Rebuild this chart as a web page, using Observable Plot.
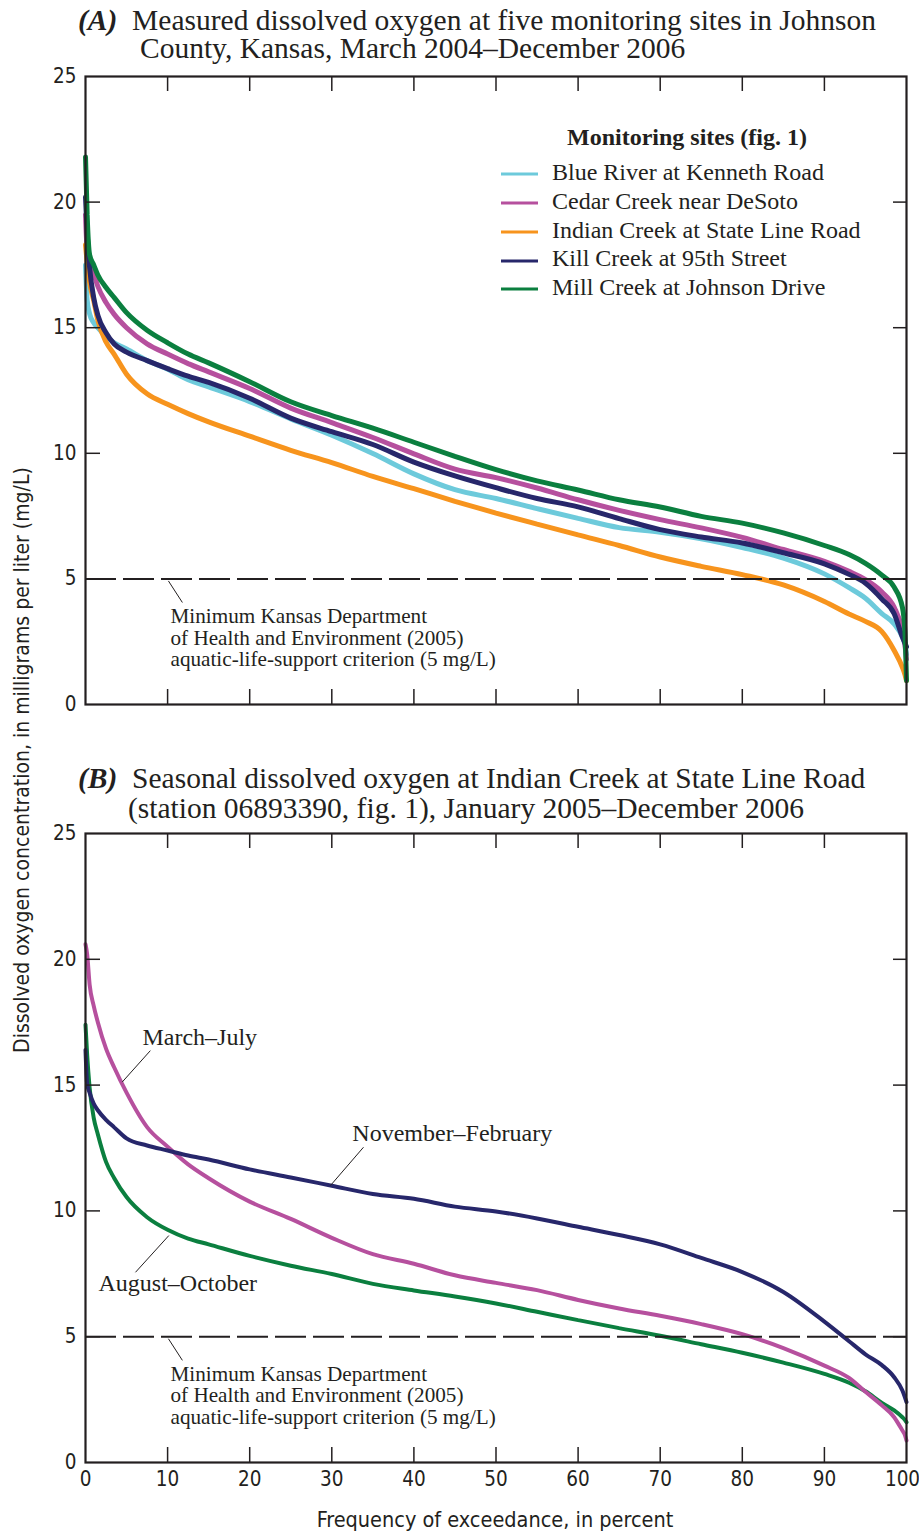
<!DOCTYPE html>
<html><head><meta charset="utf-8">
<script src="https://cdn.jsdelivr.net/npm/d3@7"></script>
<script src="https://cdn.jsdelivr.net/npm/@observablehq/plot@0.6"></script>
<style>
body{margin:0;background:#fff;}
#fig{position:relative;width:919px;height:1534px;overflow:hidden;font-family:"Liberation Serif","Times New Roman",serif;color:#231f20;background:#fff;}
#fig svg{position:absolute;left:0;}
.t{position:absolute;font-size:29.5px;white-space:nowrap;}
.t b{font-style:italic;}
.t span{display:inline-block;}
.leg{position:absolute;font-size:24px;line-height:28px;white-space:nowrap;}
.leg svg{position:static !important;vertical-align:middle;margin-right:14px;}
.narrow{font-family:"Liberation Sans Narrow","DejaVu Sans Condensed","Arial Narrow",sans-serif;}
</style></head>
<body><div id="fig"></div>
<script>
// ---- data ----
const exceedance = [0,0.2,0.5,1,1.5,2.5,3.5,5,7.5,10,12.5,15,20,25,30,35,40,45,50,55,60,65,70,75,80,85,90,93,95,97,98.5,99.5,99.8,100];
const sitesA = ["Blue River at Kenneth Road","Cedar Creek near DeSoto","Indian Creek at State Line Road","Kill Creek at 95th Street","Mill Creek at Johnson Drive"];
const blueRiver = [17.5,16.1,15.55,15.2,15.0,14.65,14.4,14.15,13.69,13.35,12.93,12.64,12.06,11.37,10.72,9.99,9.18,8.55,8.2,7.8,7.41,7.04,6.86,6.6,6.25,5.83,5.2,4.65,4.23,3.62,3.21,2.68,2.4,2.0];
const cedarCreek = [19.5,18.1,17.6,17.15,16.65,16.0,15.53,15.0,14.36,13.95,13.57,13.24,12.58,11.8,11.22,10.63,9.98,9.37,9.03,8.62,8.15,7.73,7.36,7.03,6.65,6.17,5.7,5.3,4.97,4.48,3.87,2.95,2.4,1.8];
const indianCreek = [18.3,17.6,16.8,16.08,15.3,14.43,13.94,13.15,12.37,11.95,11.58,11.25,10.68,10.12,9.63,9.08,8.59,8.09,7.62,7.18,6.75,6.33,5.87,5.5,5.17,4.76,4.1,3.6,3.31,2.9,2.15,1.48,1.2,0.95];
const killCreek = [20.2,18.8,17.4,16.2,15.5,14.8,14.35,14.03,13.69,13.37,13.07,12.82,12.19,11.4,10.86,10.35,9.65,9.1,8.63,8.2,7.87,7.4,6.96,6.67,6.43,6.04,5.6,5.18,4.83,4.2,3.61,2.68,2.45,2.3];
const millCreek = [21.8,19.5,17.9,17.5,17.1,16.6,16.2,15.6,14.9,14.4,13.95,13.6,12.85,12.05,11.5,11.0,10.44,9.88,9.35,8.9,8.54,8.15,7.86,7.49,7.22,6.83,6.33,5.97,5.62,5.15,4.67,3.87,2.95,0.95];

const seasonsB = ["August\u2013October","March\u2013July","November\u2013February"];
const augOct = [17.4,16.2,14.9,13.7,13.05,11.95,11.3,10.55,9.75,9.25,8.9,8.67,8.21,7.82,7.49,7.1,6.84,6.6,6.32,5.99,5.66,5.34,5.04,4.7,4.36,3.97,3.52,3.17,2.83,2.37,2.07,1.8,1.7,1.6];
const marJul = [20.6,20.2,19.0,18.15,17.5,16.45,15.7,14.7,13.33,12.55,11.85,11.3,10.37,9.68,8.93,8.28,7.9,7.44,7.14,6.85,6.46,6.12,5.83,5.5,5.1,4.55,3.85,3.36,2.81,2.27,1.8,1.27,1.1,0.87];
const novFeb = [16.4,15.05,14.7,14.26,14.0,13.62,13.32,12.88,12.6,12.4,12.2,12.04,11.65,11.33,11.0,10.67,10.48,10.17,9.98,9.7,9.37,9.04,8.67,8.13,7.57,6.78,5.6,4.82,4.3,3.87,3.39,2.86,2.6,2.4];

const xTickLabels = [0,10,20,30,40,50,60,70,80,90,100];
const yTickLabels = [0,5,10,15,20,25];
const criterion = 5;
const criterionNote = "Minimum Kansas Department\nof Health and Environment (2005)\naquatic-life-support criterion (5 mg/L)";

// ---- styles ----
const INK = "#231f20";
const colorsA = ["#6dcadb","#b6509e","#f7941d","#27276b","#0b7f3f"];
const colorsB = ["#0b7f3f","#b6509e","#27276b"];
const NARROW = '"Liberation Sans Narrow","DejaVu Sans Condensed","Arial Narrow",sans-serif';
const SERIF = '"Liberation Serif","Times New Roman",serif';

function table(names, arrays){
  const rows=[];
  names.forEach((n,i)=>arrays[i].forEach((v,j)=>rows.push({series:n,pct:exceedance[j],value:v})));
  return rows;
}
const dataA = table(sitesA,[blueRiver,cedarCreek,indianCreek,killCreek,millCreek]);
const dataB = table(seasonsB,[augOct,marJul,novFeb]);

const W=919, ML=85, MR=13, MT=76;
function panel({data, names, colors, height, marginBottom, showX, lineWidth, extra}){
  const plotW = W-ML-MR, plotH = height-MT-marginBottom;
  const inner = xTickLabels.slice(1,-1), innerY = yTickLabels.slice(1,-1);
  const marks = [
    Plot.line(data,{x:"pct",y:"value",z:"series",stroke:"series",strokeWidth:lineWidth,curve:"monotone-x",strokeLinejoin:"miter"}),
    Plot.ruleY([criterion],{stroke:INK,strokeWidth:2,strokeDasharray:"31,7"}),
    Plot.tickX(inner,{x:d=>d,insetTop:plotH-15,stroke:INK,strokeWidth:1.5}),
    Plot.tickX(inner,{x:d=>d,insetBottom:plotH-15,stroke:INK,strokeWidth:1.5}),
    Plot.tickY(innerY,{y:d=>d,insetRight:plotW-15,stroke:INK,strokeWidth:1.5}),
    Plot.tickY(innerY,{y:d=>d,insetLeft:plotW-13,stroke:INK,strokeWidth:1.5}),
    Plot.frame({stroke:INK,strokeWidth:2.2}),
    Plot.axisY(yTickLabels,{tickSize:0,tickPadding:9,fontSize:20.5,fontFamily:NARROW,label:null,fill:INK}),
    Plot.link([{x1:10.1,y1:4.92,x2:11.8,y2:4.06}],{x1:"x1",y1:"y1",x2:"x2",y2:"y2",stroke:INK,strokeWidth:1}),
    Plot.text([criterionNote],{x:10.35,y:3.86,text:d=>d,textAnchor:"start",lineAnchor:"top",fontSize:21.2,lineHeight:1.02,fontFamily:SERIF,fill:INK})
  ];
  if(showX){
    marks.push(Plot.axisX(xTickLabels.slice(0,-1),{tickSize:0,tickPadding:9,fontSize:20.5,fontFamily:NARROW,label:null,fill:INK}));
    marks.push(Plot.axisX(xTickLabels.slice(-1),{tickSize:0,tickPadding:9,fontSize:20.5,fontFamily:NARROW,label:null,fill:INK,dx:-4}));
  }
  if(extra) marks.push(...extra);
  return Plot.plot({
    width:W,height,marginLeft:ML,marginRight:MR,marginTop:MT,marginBottom,
    x:{domain:[0,100],axis:null},
    y:{domain:[0,25],axis:null},
    color:{domain:names,range:colors},
    style:{background:"transparent",color:INK,fontFamily:NARROW,overflow:"visible"},
    marks
  });
}

const fig = document.getElementById("fig");
function add(html){const d=document.createElement("div");d.innerHTML=html;while(d.firstChild)fig.appendChild(d.firstChild);}

const svgA = panel({data:dataA,names:sitesA,colors:colorsA,height:720,marginBottom:16,showX:false,lineWidth:5});
svgA.style.top="0px"; fig.appendChild(svgA);

const labelsB = [
  {label:"March\u2013July", x:6.94, y:16.9, lx1:7.9, ly1:16.37, lx2:4.47, ly2:15.12},
  {label:"November\u2013February", x:32.5, y:13.08, lx1:33.86, ly1:12.53, lx2:29.84, ly2:11.01},
  {label:"August\u2013October", x:1.58, y:7.11, lx1:6.09, ly1:7.56, lx2:10.15, ly2:9.02}
];
const svgB = panel({data:dataB,names:seasonsB,colors:colorsB,height:765,marginBottom:60,showX:true,lineWidth:4,extra:[
  Plot.link(labelsB,{x1:"lx1",y1:"ly1",x2:"lx2",y2:"ly2",stroke:INK,strokeWidth:1}),
  Plot.text(labelsB,{x:"x",y:"y",text:"label",textAnchor:"start",fontSize:24,fontFamily:SERIF,fill:INK})
]});
svgB.style.top="757px"; fig.appendChild(svgB);

// titles (each a single two-line block)
add('<div class="t" style="left:78px;top:5.7px;line-height:28px"><b>(A)</b>&nbsp; Measured dissolved oxygen at five monitoring sites in Johnson<br><span style="margin-left:62px">County, Kansas, March 2004\u2013December 2006</span></div>');
add('<div class="t" style="left:78px;top:763px;line-height:30px"><b>(B)</b>&nbsp; Seasonal dissolved oxygen at Indian Creek at State Line Road<br><span style="margin-left:50px">(station 06893390, fig. 1), January 2005\u2013December 2006</span></div>');

// legend
add('<div class="leg" style="left:567px;top:123px;font-weight:bold">Monitoring sites (fig. 1)</div>');
sitesA.forEach((s,i)=>{
  add(`<div class="leg" style="left:501px;top:${(158+i*28.75).toFixed(1)}px"><svg width="37" height="4"><line x1="0" x2="37" y1="2" y2="2" stroke="${colorsA[i]}" stroke-width="3"/></svg>${s}</div>`);
});

// axis titles
add('<div class="narrow" style="position:absolute;left:-328px;top:748px;width:700px;text-align:center;font-size:21px;line-height:24px;transform:rotate(-90deg);white-space:nowrap">Dissolved oxygen concentration, in milligrams per liter (mg/L)</div>');
add('<div class="narrow" style="position:absolute;left:145px;top:1507px;width:700px;text-align:center;font-size:21.5px;line-height:26px;white-space:nowrap">Frequency of exceedance, in percent</div>');
</script></body></html>
